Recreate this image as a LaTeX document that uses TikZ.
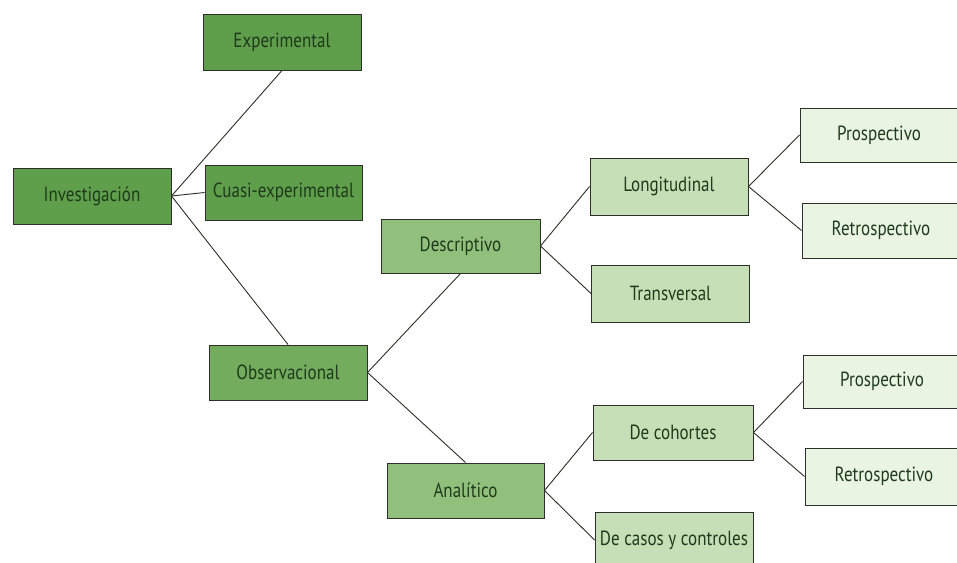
\documentclass[tikz,border=0pt]{standalone}
\usepackage{fontspec}
\setmainfont{PT Sans}[FakeStretch=0.83]
\definecolor{lvlA}{HTML}{5F9E4A}
\definecolor{lvlB}{HTML}{72AC5C}
\definecolor{lvlC}{HTML}{90C07B}
\definecolor{lvlD}{HTML}{C6DFB6}
\definecolor{lvlE}{HTML}{E9F4E2}
\definecolor{ink}{HTML}{1F3A1C}
\definecolor{edge}{HTML}{2E2E2A}
\tikzset{
  box/.style={draw=edge, line width=1pt, rectangle, minimum width=158pt,
    minimum height=56pt, inner sep=2pt, text=ink, font=\fontsize{20.5}{23}\selectfont},
  link/.style={draw=edge, line width=0.9pt},
}
\begin{document}
\begin{tikzpicture}[x=1pt,y=-1pt]
\useasboundingbox (0,0) rectangle (957,562);
\clip (0,0) rectangle (957,562);
\fill[white] (0,0) rectangle (957,562);

% level 0 and 1
\node[box, fill=lvlA] (inv) at (92,196) {Investigación};
\node[box, fill=lvlA] (exp) at (282,42) {Experimental};
\node[box, fill=lvlA, minimum width=157pt, minimum height=55pt] (cua) at (283.5,192.5) {Cuasi-experimental};
\node[box, fill=lvlB, minimum height=55pt] (obs) at (288,372.5) {Observacional};

% level 2
\node[box, fill=lvlC, minimum width=159pt, minimum height=54pt] (des) at (460.5,246) {Descriptivo};
\node[box, fill=lvlC, minimum width=157pt, minimum height=55pt] (ana) at (465.5,490.5) {Analítico};

% level 3
\node[box, fill=lvlD, minimum height=57pt] (lon) at (669,186.5) {Longitudinal};
\node[box, fill=lvlD, minimum height=57pt] (tra) at (670.5,293.5) {Transversal};
\node[box, fill=lvlD, minimum width=160pt, minimum height=55pt] (coh) at (673,432.5) {De cohortes};
\node[box, fill=lvlD] (cas) at (674,540) {De casos y controles};

% level 4
\node[box, fill=lvlE, minimum height=54pt] (pro1) at (879,135) {Prospectivo};
\node[box, fill=lvlE, minimum height=55pt] (ret1) at (881,230.5) {Retrospectivo};
\node[box, fill=lvlE, minimum height=53pt] (pro2) at (882,381.5) {Prospectivo};
\node[box, fill=lvlE, minimum height=57pt] (ret2) at (884,476.5) {Retrospectivo};

% connectors
\draw[link] (inv.east) -- (exp.south);
\draw[link] (inv.east) -- (cua.west);
\draw[link] (inv.east) -- (obs.north);
\draw[link] (obs.east) -- (des.south);
\draw[link] (obs.east) -- (ana.north);
\draw[link] (des.east) -- (lon.west);
\draw[link] (des.east) -- (tra.west);
\draw[link] (lon.east) -- (pro1.west);
\draw[link] (lon.east) -- (ret1.west);
\draw[link] (ana.east) -- (coh.west);
\draw[link] (ana.east) -- (cas.west);
\draw[link] (coh.east) -- (pro2.west);
\draw[link] (coh.east) -- (ret2.west);
\end{tikzpicture}
\end{document}
